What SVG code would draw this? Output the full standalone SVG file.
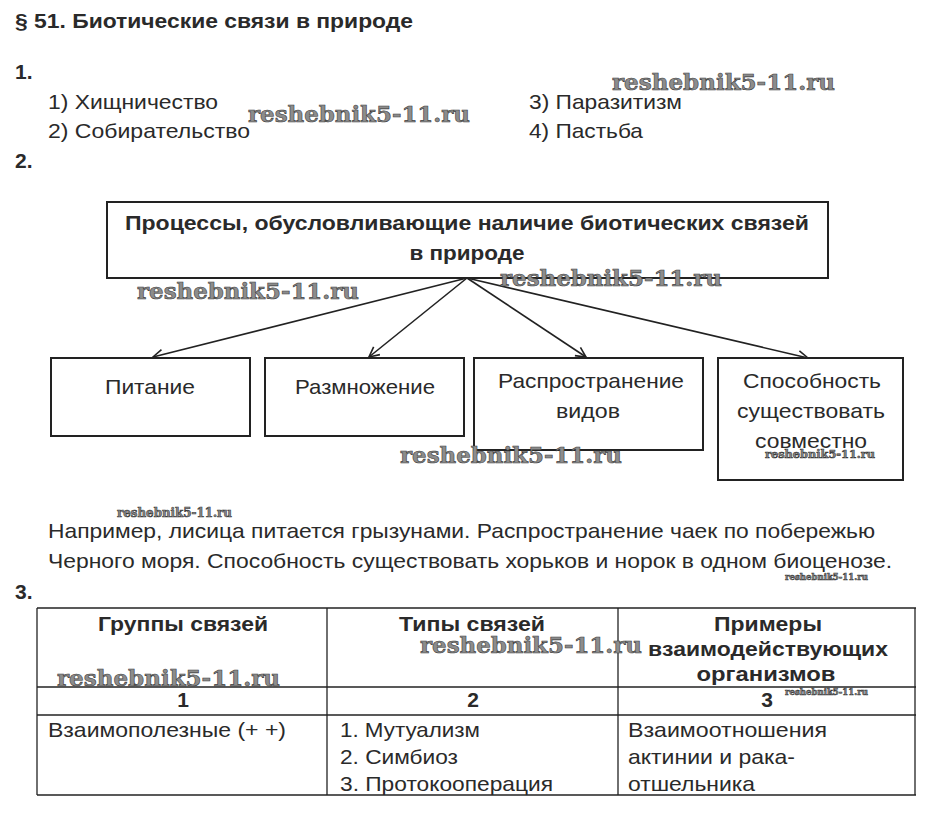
<svg xmlns="http://www.w3.org/2000/svg" width="926" height="834" viewBox="0 0 926 834">
<defs>
<marker id="arr" viewBox="0 0 12 12" refX="11" refY="6" markerWidth="12" markerHeight="12" markerUnits="userSpaceOnUse" orient="auto">
<path d="M1,1 L11,6 L1,11" fill="none" stroke="#222" stroke-width="1.6"/>
</marker>
</defs>
<style>
.t{font-family:"Liberation Sans",Arial,sans-serif;fill:#2a2a2a;font-size:21px}
.b{font-weight:bold}
.c{text-anchor:middle}
.box{fill:#fff;stroke:#222;stroke-width:2}
.ln{stroke:#222;stroke-width:1.3}
.con{stroke:#222;stroke-width:1.6;fill:none;marker-end:url(#arr)}
.wm{font-family:"DejaVu Serif","Liberation Serif",serif;font-weight:bold;fill:#8c8c8c;stroke:#3a3a3a;stroke-width:0.6}
</style>
<rect width="926" height="834" fill="#fff"/>

<g id="header">
<text class="t b" x="15" y="28" font-size="21" textLength="398" lengthAdjust="spacingAndGlyphs">§ 51. Биотические связи в природе</text>
<text class="t b" x="15" y="79" font-size="21">1.</text>
<text class="t" x="48" y="109" textLength="170" lengthAdjust="spacingAndGlyphs">1) Хищничество</text>
<text class="t" x="48" y="138" textLength="202" lengthAdjust="spacingAndGlyphs">2) Собирательство</text>
<text class="t" x="529" y="109" textLength="153" lengthAdjust="spacingAndGlyphs">3) Паразитизм</text>
<text class="t" x="529" y="138" textLength="114" lengthAdjust="spacingAndGlyphs">4) Пастьба</text>
<text class="t b" x="15" y="168" font-size="21">2.</text>
</g>

<g id="connectors">
<line class="con" x1="467" y1="278" x2="153" y2="357"/>
<line class="con" x1="467" y1="278" x2="369" y2="357"/>
<line class="con" x1="467" y1="278" x2="586" y2="357"/>
<line class="con" x1="467" y1="278" x2="808" y2="358"/>
</g>

<g id="node-root">
<rect class="box" x="107" y="202" width="721" height="76"/>
<text class="t b c" x="467" y="230" textLength="684" lengthAdjust="spacingAndGlyphs">Процессы, обусловливающие наличие биотических связей</text>
<text class="t b c" x="467" y="260" textLength="115" lengthAdjust="spacingAndGlyphs">в природе</text>
</g>

<g id="node-pitanie">
<rect class="box" x="51" y="358" width="199" height="78"/>
<text class="t c" x="150" y="394" textLength="90" lengthAdjust="spacingAndGlyphs">Питание</text>
</g>

<g id="node-razmnozhenie">
<rect class="box" x="265" y="358" width="199" height="78"/>
<text class="t c" x="365" y="394" textLength="140" lengthAdjust="spacingAndGlyphs">Размножение</text>
</g>

<g id="node-rasprostranenie">
<rect class="box" x="474" y="358" width="229" height="92"/>
<text class="t c" x="591" y="388" textLength="186" lengthAdjust="spacingAndGlyphs">Распространение</text>
<text class="t c" x="588" y="418" textLength="64" lengthAdjust="spacingAndGlyphs">видов</text>
</g>

<g id="node-sposobnost">
<rect class="box" x="718" y="358" width="185" height="122"/>
<text class="t c" x="812" y="388" textLength="138" lengthAdjust="spacingAndGlyphs">Способность</text>
<text class="t c" x="811" y="418" textLength="148" lengthAdjust="spacingAndGlyphs">существовать</text>
<text class="t c" x="811" y="448" textLength="112" lengthAdjust="spacingAndGlyphs">совместно</text>
</g>

<g id="paragraph">
<text class="t" x="48" y="538" textLength="827" lengthAdjust="spacingAndGlyphs">Например, лисица питается грызунами. Распространение чаек по побережью</text>
<text class="t" x="48" y="568" textLength="844" lengthAdjust="spacingAndGlyphs">Черного моря. Способность существовать хорьков и норок в одном биоценозе.</text>
<text class="t b" x="15" y="599" font-size="21">3.</text>
</g>

<g id="table">
<line class="ln" x1="37" y1="608" x2="916" y2="608"/>
<line class="ln" x1="37" y1="687" x2="916" y2="687"/>
<line class="ln" x1="37" y1="715" x2="916" y2="715"/>
<line class="ln" x1="37" y1="795" x2="916" y2="795"/>
<line class="ln" x1="37" y1="608" x2="37" y2="795"/>
<line class="ln" x1="327" y1="608" x2="327" y2="795"/>
<line class="ln" x1="618" y1="608" x2="618" y2="795"/>
<line class="ln" x1="915" y1="608" x2="915" y2="795"/>
<text class="t b c" x="183" y="631" font-size="20" textLength="170" lengthAdjust="spacingAndGlyphs">Группы связей</text>
<text class="t b c" x="472" y="631" font-size="20" textLength="146" lengthAdjust="spacingAndGlyphs">Типы связей</text>
<text class="t b c" x="768" y="631" font-size="20" textLength="108" lengthAdjust="spacingAndGlyphs">Примеры</text>
<text class="t b c" x="768" y="656" font-size="20" textLength="240" lengthAdjust="spacingAndGlyphs">взаимодействующих</text>
<text class="t b c" x="766" y="681" font-size="20" textLength="139" lengthAdjust="spacingAndGlyphs">организмов</text>
<text class="t b c" x="183" y="707" font-size="20">1</text>
<text class="t b c" x="473" y="707" font-size="20">2</text>
<text class="t b c" x="767" y="707" font-size="20">3</text>
<text class="t" x="48" y="737" textLength="238" lengthAdjust="spacingAndGlyphs">Взаимополезные (+ +)</text>
<text class="t" x="340" y="737" textLength="140" lengthAdjust="spacingAndGlyphs">1. Мутуализм</text>
<text class="t" x="340" y="764" textLength="118" lengthAdjust="spacingAndGlyphs">2. Симбиоз</text>
<text class="t" x="340" y="791" textLength="213" lengthAdjust="spacingAndGlyphs">3. Протокооперация</text>
<text class="t" x="628" y="737" textLength="199" lengthAdjust="spacingAndGlyphs">Взаимоотношения</text>
<text class="t" x="628" y="764" textLength="167" lengthAdjust="spacingAndGlyphs">актинии и рака-</text>
<text class="t" x="628" y="791" textLength="127" lengthAdjust="spacingAndGlyphs">отшельника</text>
</g>

<g id="watermarks">
<text class="wm" x="248" y="122" font-size="23" textLength="222" lengthAdjust="spacingAndGlyphs">reshebnik5-11.ru</text>
<text class="wm" x="612" y="90" font-size="23" textLength="223" lengthAdjust="spacingAndGlyphs">reshebnik5-11.ru</text>
<text class="wm" x="137" y="299" font-size="23" textLength="222" lengthAdjust="spacingAndGlyphs">reshebnik5-11.ru</text>
<text class="wm" x="500" y="286" font-size="23" textLength="222" lengthAdjust="spacingAndGlyphs">reshebnik5-11.ru</text>
<text class="wm" x="400" y="463" font-size="23" textLength="222" lengthAdjust="spacingAndGlyphs">reshebnik5-11.ru</text>
<text class="wm" x="765" y="458" font-size="11" stroke-width="0.3" textLength="110" lengthAdjust="spacingAndGlyphs">reshebnik5-11.ru</text>
<text class="wm" x="117" y="517" font-size="12" stroke-width="0.3" textLength="115" lengthAdjust="spacingAndGlyphs">reshebnik5-11.ru</text>
<text class="wm" x="785" y="580" font-size="9" stroke-width="0.3" textLength="83" lengthAdjust="spacingAndGlyphs">reshebnik5-11.ru</text>
<text class="wm" x="420" y="653" font-size="23" textLength="222" lengthAdjust="spacingAndGlyphs">reshebnik5-11.ru</text>
<text class="wm" x="57" y="686" font-size="23" textLength="223" lengthAdjust="spacingAndGlyphs">reshebnik5-11.ru</text>
<text class="wm" x="785" y="695" font-size="9" stroke-width="0.3" textLength="83" lengthAdjust="spacingAndGlyphs">reshebnik5-11.ru</text>
</g>
</svg>
